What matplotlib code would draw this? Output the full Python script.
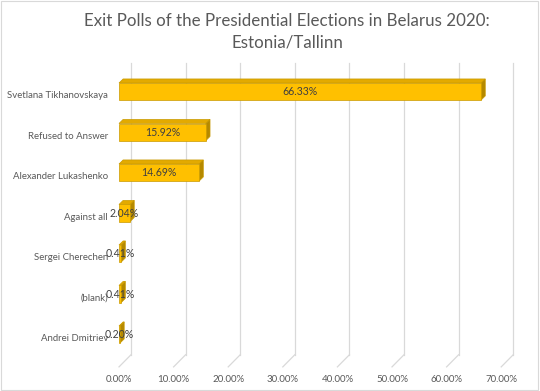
import matplotlib.pyplot as plt
from matplotlib.patches import Polygon, Rectangle

# ── data ─────────────────────────────────────────
categories = ["Svetlana Tikhanovskaya", "Refused to Answer", "Alexander Lukashenko",
              "Against all", "Sergei Cherechen", "(blank)", "Andrei Dmitriev"]
shares = [66.33, 15.92, 14.69, 2.04, 0.41, 0.41, 0.20]
x_ticks = [0, 10, 20, 30, 40, 50, 60, 70]
title = "Exit Polls of the Presidential Elections in Belarus 2020:\nEstonia/Tallinn"

plt.rcParams['font.family'] = ['Lato', 'DejaVu Sans']

FRONT, TOP, SIDE, EDGE = '#FFC000', '#E3AA00', '#B58900', '#C99A00'
GRID = '#D9D9D9'
TXT = '#595959'

fig = plt.figure(figsize=(5.4, 3.91), dpi=100)
ax = fig.add_axes([100 / 540, 6 / 391, 430 / 540, 325 / 391])
ax.set_xlim(-19 / 5.46, 411 / 5.46)
ax.set_ylim(7.247, -0.778)
ax.axis('off')

# depth of the bars and of the back wall (data units)
bdx, bdy = 0.75, -0.10
wdx, wdy = 2.2, -0.30
h = 0.42
floor_y = 6.80

# back wall gridlines + floor diagonals
for t in x_ticks:
    ax.plot([t + wdx, t + wdx], [-0.70, floor_y + wdy], color=GRID, lw=0.9, zorder=1)
    ax.plot([t, t + wdx], [floor_y, floor_y + wdy], color=GRID, lw=0.9, zorder=1)
    ax.text(t, floor_y + 0.32, f"{t:.2f}%", ha='center', va='center',
            fontsize=7, color=TXT)

for i, (name, v) in enumerate(zip(categories, shares)):
    y0, y1 = i - h / 2, i + h / 2
    # top face
    ax.add_patch(Polygon([(0, y0), (v, y0), (v + bdx, y0 + bdy), (bdx, y0 + bdy)],
                         closed=True, fc=TOP, ec=EDGE, lw=0.5, zorder=3))
    # side face
    ax.add_patch(Polygon([(v, y0), (v + bdx, y0 + bdy), (v + bdx, y1 + bdy), (v, y1)],
                         closed=True, fc=SIDE, ec=EDGE, lw=0.5, zorder=3))
    # front face
    ax.add_patch(Rectangle((0, y0), v, h, fc=FRONT, ec=EDGE, lw=0.5, zorder=4))
    ax.text(v / 2, i, f"{v:.2f}%", ha='center', va='center', fontsize=7.6,
            color='#404040', zorder=5)
    ax.text(-2.0, i + 0.1, name, ha='right', va='center', fontsize=6.9, color=TXT)

fig.text(287 / 540, 1 - 32 / 391, title, ha='center', va='center', fontsize=12.2,
         color=TXT, linespacing=1.4)

# chart border
fig.patches.append(Rectangle((0.001, 0.002), 0.996, 0.995, transform=fig.transFigure,
                             fill=False, ec='#D9D9D9', lw=0.8))

fig.savefig('out.png', dpi=100)
